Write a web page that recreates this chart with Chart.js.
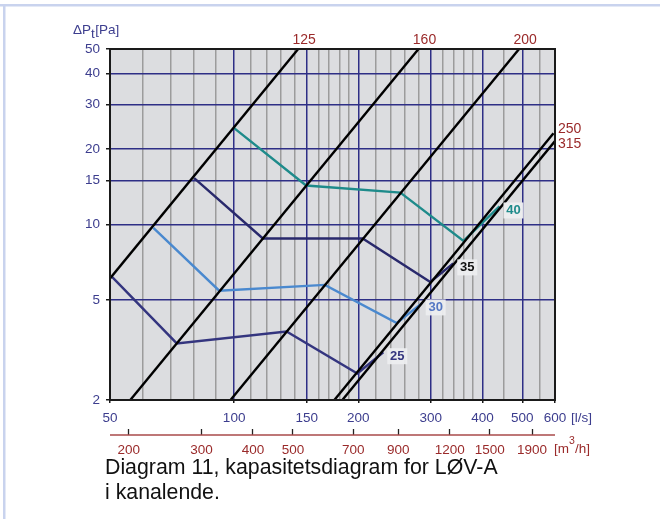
<!DOCTYPE html>
<html>
<head>
<meta charset="utf-8">
<script src="https://cdn.jsdelivr.net/npm/chart.js@4.4.0/dist/chart.umd.min.js"></script>
<style>
    html, body { margin: 0; padding: 0; background: #fff; }
</style>
</head>
<body>
<canvas id="kapChart" width="660" height="519"></canvas>
<script>
// luftmengde [l/s] on x, trykkfall [Pa] on y
const flowGrid = [50, 60, 70, 80, 90, 100, 110, 120, 130, 140, 150, 160, 170, 180, 190, 200,
    220, 240, 260, 280, 300, 320, 340, 360, 380, 400, 450, 500, 550, 600];
const flowLabels = [50, 100, 150, 200, 300, 400, 500, 600];
const flowMajor = [100, 150, 200, 300, 400, 500];
const m3hLabels = [200, 300, 400, 500, 700, 900, 1200, 1500, 1900];
const pressureTicks = [2, 5, 10, 15, 20, 30, 40, 50];

// duct dimension lines (two end points each)
const ductNames = ["125", "160", "200", "250", "315"];
const duct125 = [[50, 6.1], [143, 50]];
const duct160 = [[56, 2], [280, 50]];
const duct200 = [[98, 2], [491, 50]];
const duct250 = [[175, 2], [595, 23.1]];
const duct315 = [[183, 2], [600, 21.5]];

// sound level curves
const curveNames = ["40", "35", "30", "25"];
const curve40 = [[100, 24.2], [149.5, 14.3], [253, 13.4], [360, 8.6], [440, 11.8]];
const curve35 = [[80, 15.3], [117.4, 8.8], [205, 8.8], [299, 5.9], [340, 7.0]];
const curve30 = [[63.7, 9.7], [92, 5.45], [166, 5.75], [248, 4.05], [285, 4.85]];
const curve25 = [[50.5, 6.2], [72.6, 3.36], [134, 3.75], [199, 2.55], [230, 3.1]];

const FONT = "'Liberation Sans', Arial, Helvetica, sans-serif";
const BLUE_TXT = "#3c3d8e";
const RED_TXT = "#9a2a2a";
const GRID_BLUE = "#2e2f86";
const GRID_GRAY = "#9c9c9c";

const curveColors = ["#1e8b8b", "#29296c", "#4a89cf", "#34357f"];
const curveLabelColors = ["#1e8b8b", "#111111", "#5578c4", "#34357f"];

function toPts(arr) {
    return arr.map(p => ({ x: p[0], y: p[1] }));
}

let ducts = [duct125, duct160, duct200, duct250, duct315];
let curves = [curve40, curve35, curve30, curve25];

let datasets = [];
ducts.forEach((d, i) => {
    datasets.push({
        label: ductNames[i],
        data: toPts(d),
        borderColor: "#000",
        borderWidth: 2.4,
        pointRadius: 0,
        tension: 0
    });
});
curves.forEach((c, i) => {
    datasets.push({
        label: curveNames[i],
        data: toPts(c),
        borderColor: curveColors[i],
        borderWidth: 2.4,
        pointRadius: 0,
        tension: 0
    });
});

const decoPlugin = {
    id: "deco",
    beforeDraw(chart) {
        let ctx = chart.ctx, a = chart.chartArea;
        ctx.save();
        // page frame
        ctx.fillStyle = "#ffffff";
        ctx.fillRect(0, 0, chart.width, chart.height);
        ctx.fillStyle = "#c9d3ee";
        ctx.fillRect(0, 4, chart.width, 2.5);
        ctx.fillRect(3, 4, 2.5, chart.height);
        // plot background
        ctx.fillStyle = "#dcdde0";
        ctx.fillRect(a.left, a.top, a.right - a.left, a.bottom - a.top);
        ctx.restore();
    },
    afterDraw(chart) {
        let ctx = chart.ctx, a = chart.chartArea;
        let xs = chart.scales.x, ys = chart.scales.y, x2 = chart.scales.x2;
        ctx.save();
        ctx.strokeStyle = "#1a1a1a";
        ctx.lineWidth = 2;
        ctx.strokeRect(a.left, a.top, a.right - a.left, a.bottom - a.top);

        // red m3/h axis line below its ticks
        ctx.strokeStyle = "#a84a4a";
        ctx.lineWidth = 1.5;
        ctx.beginPath();
        ctx.moveTo(a.left, x2.top + 6);
        ctx.lineTo(a.right, x2.top + 6);
        ctx.stroke();

        // duct labels
        ctx.font = "14px " + FONT;
        ctx.fillStyle = RED_TXT;
        ctx.textBaseline = "middle";
        ducts.forEach((d, i) => {
            let end = d[d.length - 1];
            let px = xs.getPixelForValue(end[0]);
            let py = ys.getPixelForValue(end[1]);
            if (i < 3) {
                ctx.textAlign = "center";
                ctx.fillText(ductNames[i], px + 6, a.top - 9);
            } else {
                ctx.textAlign = "left";
                ctx.fillText(ductNames[i], a.right + 3, py + (i === 3 ? -4 : 3));
            }
        });

        // curve labels with light boxes
        ctx.font = "bold 13px " + FONT;
        ctx.textAlign = "center";
        curves.forEach((c, i) => {
            let end = c[c.length - 1];
            let px = xs.getPixelForValue(end[0]) + 14;
            let py = ys.getPixelForValue(end[1]) + 4;
            ctx.fillStyle = "rgba(236,237,239,0.95)";
            ctx.fillRect(px - 10, py - 8, 20, 16);
            ctx.fillStyle = curveLabelColors[i];
            ctx.fillText(curveNames[i], px, py);
        });

        // axis titles
        ctx.font = "13.5px " + FONT;
        ctx.textAlign = "left";
        ctx.textBaseline = "alphabetic";
        ctx.fillStyle = BLUE_TXT;
        ctx.fillText("\u0394P", 73, 34);
        let w = ctx.measureText("\u0394P").width;
        ctx.fillText("t", 73 + w, 38);
        ctx.fillText("[Pa]", 73 + w + ctx.measureText("t").width + 0.5, 34);

        ctx.textBaseline = "middle";
        ctx.fillText("[l/s]", 571, 418.5);

        ctx.fillStyle = RED_TXT;
        ctx.fillText("[m", 554, 449);
        let mw = ctx.measureText("[m").width;
        ctx.font = "10.5px " + FONT;
        ctx.fillText("3", 554 + mw, 441);
        ctx.font = "13.5px " + FONT;
        ctx.fillText("/h]", 554 + mw + 6, 449);

        // caption
        ctx.fillStyle = "#111";
        ctx.font = "21.3px " + FONT;
        ctx.fillText("Diagram 11, kapasitetsdiagram for L\u00d8V-A", 105, 468);
        ctx.fillText("i kanalende.", 105, 493);
        ctx.restore();
    }
};

document.addEventListener("DOMContentLoaded", () => {
    let canvas = document.getElementById("kapChart");
    new Chart(canvas, {
        type: "line",
        data: { datasets: datasets },
        plugins: [decoPlugin],
        options: {
            responsive: false,
            animation: false,
            parsing: true,
            layout: { padding: { top: 49, right: 105, left: 0, bottom: 60 } },
            plugins: { legend: { display: false }, tooltip: { enabled: false } },
            scales: {
                x: {
                    type: "logarithmic",
                    position: "bottom",
                    weight: 0,
                    min: 50,
                    max: 600,
                    afterBuildTicks: s => { s.ticks = flowGrid.map(v => ({ value: v })); },
                    afterFit: s => { s.height = 29; },
                    border: { display: false },
                    grid: {
                        color: c => flowMajor.includes(c.tick && c.tick.value) ? GRID_BLUE : GRID_GRAY,
                        lineWidth: 1.5,
                        tickLength: 3,
                        tickWidth: 1.5,
                        tickColor: c => flowLabels.includes(c.tick && c.tick.value) ? "#1a1a1a" : "rgba(0,0,0,0)"
                    },
                    ticks: {
                        autoSkip: false,
                        maxRotation: 0,
                        padding: 7,
                        color: BLUE_TXT,
                        font: { family: FONT, size: 13.5 },
                        callback: v => flowLabels.includes(v) ? String(v) : ""
                    }
                },
                x2: {
                    type: "logarithmic",
                    position: "bottom",
                    weight: 1,
                    min: 180,
                    max: 2160,
                    afterBuildTicks: s => { s.ticks = m3hLabels.map(v => ({ value: v })); },
                    afterFit: s => { s.height = 30; },
                    border: { display: false },
                    grid: {
                        drawOnChartArea: false,
                        tickLength: 6,
                        tickWidth: 1.3,
                        tickColor: "#222"
                    },
                    ticks: {
                        autoSkip: false,
                        maxRotation: 0,
                        padding: 7,
                        color: RED_TXT,
                        font: { family: FONT, size: 13.5 },
                        callback: v => String(v)
                    }
                },
                y: {
                    type: "logarithmic",
                    min: 2,
                    max: 50,
                    afterBuildTicks: s => { s.ticks = pressureTicks.map(v => ({ value: v })); },
                    afterFit: s => { s.width = 110; },
                    border: { display: false },
                    grid: {
                        color: GRID_BLUE,
                        lineWidth: 1.5,
                        tickLength: 4,
                        tickWidth: 1.5,
                        tickColor: "#1a1a1a"
                    },
                    ticks: {
                        autoSkip: false,
                        padding: 6,
                        color: BLUE_TXT,
                        font: { family: FONT, size: 13.5 },
                        callback: v => String(v)
                    }
                }
            }
        }
    });
});
</script>
</body>
</html>
